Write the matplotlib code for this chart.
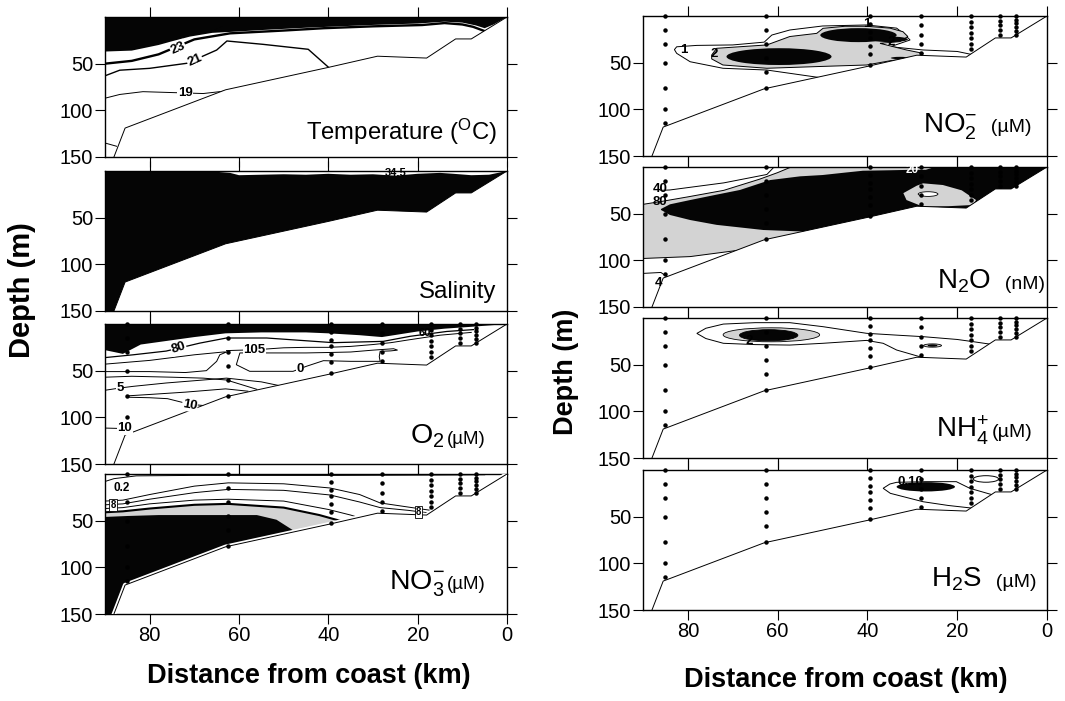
import numpy as np
import matplotlib
matplotlib.use("Agg")
import matplotlib.pyplot as plt
from matplotlib.patches import Polygon, Ellipse
from matplotlib.offsetbox import TextArea, HPacker, AnchoredOffsetbox

plt.rcParams["font.family"] = ["Liberation Sans", "DejaVu Sans"]
plt.rcParams["mathtext.fontset"] = "custom"
plt.rcParams["mathtext.rm"] = "Liberation Sans"
plt.rcParams["mathtext.it"] = "Liberation Sans:italic"
plt.rcParams["mathtext.bf"] = "Liberation Sans:bold"

BLACK = "#050505"
GREY = "#d3d3d3"

# ---------------------------------------------------------------- section geometry
dist_range = (90, 0)
depth_range = (150, 0)
x_ticks = [80, 60, 40, 20, 0]
depth_ticks = [50, 100, 150]

bottom_dist = [90, 88, 85.5, 63, 40, 29, 18, 11.5, 8, 0]
bottom_depth = [150, 150, 119, 78, 54, 42, 44, 23.5, 23.5, 0]

station_dist = [85, 62.5, 39.5, 28, 17, 10.5, 7]
station_depths = [
    [0, 15, 30, 50, 77, 100, 115],
    [0, 15, 30, 45, 60, 77],
    [0, 9, 17, 24, 32, 41, 53],
    [0, 10, 20, 30, 40],
    [0, 6, 12, 18, 24, 30, 35],
    [0, 5, 10, 15, 20],
    [0, 4, 8, 12, 16, 20],
]

# ---------------------------------------------------------------- temperature (degC)
temp_25_dist = [90, 84, 78, 75, 71, 66, 62, 55, 45, 40, 30, 20, 14, 10, 7, 5, 3, 0]
temp_25_depth = [37, 36, 30, 26, 21, 17, 16, 14, 11.5, 10.5, 8.5, 7, 5, 6, 9, 12, 8, 0]
temp_23_dist = [90, 84, 78, 75.5, 72, 70, 62, 50, 41, 30, 19, 14, 10, 7.6, 4.5]
temp_23_depth = [50, 47, 40, 35, 28, 24, 17.5, 14.5, 12, 10, 8.6, 6.5, 8, 10.5, 16]
temp_21_dist = [90, 86.7, 80, 71.7, 65, 62.7, 54.6, 44.5, 39.7]
temp_21_depth = [63, 57, 55, 49.6, 35.4, 25.7, 29.3, 34.6, 55]
temp_19_dist = [90, 86.7, 81.5, 68, 62.5]
temp_19_depth = [87, 83, 80, 82, 79]
temp_17_dist = [90, 87.4]
temp_17_depth = [135, 138.5]

# ---------------------------------------------------------------- salinity
sal_top_dist = [90, 72, 66, 62, 60, 55, 50, 45, 40, 35, 30, 25, 20, 15, 12, 8, 4, 2, 0]
sal_top_depth = [0, 0, 0.5, 2, 4.5, 4, 3.5, 4, 3, 4, 3.5, 5, 3, 2, 3, 4.5, 4, 2, 0]

# ---------------------------------------------------------------- oxygen (uM)
o2_high_dist = [90, 86, 82, 76, 70, 63, 55, 45, 40, 33, 28, 24, 20, 14, 8, 0]
o2_high_depth = [28, 32, 22, 18, 14, 10, 9, 9, 10, 12, 14, 11, 8, 5, 3, 0]
o2_80_dist = [90, 83.7, 76.3, 68.8, 62.8, 53.8, 38.9, 27.7, 21.7, 13.5, 7.5]
o2_80_depth = [36, 33, 29, 20.5, 15, 15, 20, 18.6, 13.2, 8, 6]
o2_105_dist = [62.8, 56, 50, 45, 40, 35, 30, 26, 22, 15, 8]
o2_105_depth = [28.5, 27.5, 25.5, 25, 25, 24, 22, 20, 17, 12, 9]
o2_tongue_dist = [90, 80, 70, 63.5, 62.8, 64.3, 65, 67.3, 72, 80, 90]
o2_tongue_depth = [43, 39, 33, 30, 30, 33, 40, 50, 52, 51, 51]
o2_0_dist = [59.8, 55, 45, 39.6, 35, 30, 25.4, 24.5, 26, 28.4, 28.6, 28.4, 35, 41.1,
             44.9, 47.9, 57.6, 60.6, 59.8]
o2_0_depth = [31, 31, 31, 30.5, 30, 28, 26.5, 28, 28.8, 29.3, 35, 40, 40, 39.3,
              45.3, 50.7, 50.7, 43.6, 31]
o2_mid_dist = [90, 84, 75, 68, 62.8, 56]
o2_mid_depth = [57, 56, 57, 58, 60, 70]
o2_5_dist = [90, 86.7, 83.7, 76.3, 62.8, 55, 50]
o2_5_depth = [71, 68.6, 66.8, 63.2, 58, 62, 67]
o2_10_dist = [58, 63, 72, 80, 85, 84.5, 80, 76, 71, 66.5]
o2_10_depth = [72, 69.5, 73, 75.5, 77, 78.5, 79, 80, 86, 88]
o2_10b_dist = [90, 86, 85]
o2_10b_depth = [111.5, 112, 118]

# ---------------------------------------------------------------- nitrate (uM)
no3_02_dist = [90, 88, 83, 70, 40, 20, 10, 5]
no3_02_depth = [8, 5, 2, 1.5, 1.5, 1.2, 1, 0.8]
no3_a_dist = [90, 86, 80, 70, 62.4, 50, 39.6, 33, 28.4, 22, 17, 14]
no3_a_depth = [29, 28, 22, 13, 9.5, 10.5, 15, 22, 31, 35.5, 39, 45]
no3_b_dist = [90, 86, 80, 70, 62.4, 50, 39.6, 33, 28.4, 22, 17, 14]
no3_b_depth = [33, 32, 27, 20, 16.5, 17.5, 22.5, 30, 36, 39, 42, 46]
no3_c_dist = [90, 86, 80, 70, 62.4, 50, 40, 35, 31]
no3_c_depth = [37, 36, 32, 28, 27, 29, 38, 44, 50]
no3_d_dist = [90, 86, 80, 70, 62.4, 50, 42, 36]
no3_d_depth = [41, 40, 37, 33, 32, 36, 44, 52]
no3_deep_dist = [90, 85, 78, 65, 56, 51.6, 47, 44]
no3_deep_depth = [46, 45, 44, 44, 44, 49, 63, 70]

# ---------------------------------------------------------------- nitrite (uM)
no2_1_dist = [83, 82.5, 78, 70, 63, 61.3, 57.3, 50, 40.2, 33.5, 32, 30.5, 34.9, 27.6, 20,
              16, 20, 30, 40, 50.6, 62.4, 72.2, 79.5, 82.5, 83]
no2_1_depth = [36, 33, 31.5, 31, 28, 20.4, 15, 10.7, 9.6, 13, 18.6, 25.7, 32.9, 36.4, 38,
               42, 50, 50, 58, 66, 57.9, 56, 49, 40, 36]
no2_2_dist = [74.7, 74.7, 73.6, 62.4, 57.3, 51.3, 49.9, 45, 40.2, 35, 32.1, 31, 32.8, 37.2,
              31.3, 27.6, 28, 35, 40.2, 50, 62.4, 72.2, 74.7]
no2_2_depth = [46, 41.8, 34.6, 31, 22, 18.6, 13.2, 11, 11, 13, 16.8, 22, 27.5, 29.3,
               36.4, 40, 44, 48, 52.5, 54, 56, 52.5, 46]
no2_max_dist = [59.7, 42, 35, 32.8]
no2_max_depth = [43.5, 20.5, 25, 45]
no2_max_width = [23.4, 17, 8, 4]
no2_max_height = [18, 15, 6, 2.5]

# ---------------------------------------------------------------- nitrous oxide (nM)
n2o_grey_top_dist = [90, 86, 80, 72, 64, 60, 57, 0]
n2o_grey_top_depth = [40, 37, 32, 25, 13, 6, 0, 0]
n2o_grey_bot_dist = [90, 79.5, 68.4, 62, 61, 0]
n2o_grey_bot_depth = [98, 96, 89, 79, 150, 150]
n2o_core_top_dist = [86, 84, 79.5, 74, 68.4, 61.7, 55, 50, 45, 41, 35, 30, 27, 25, 0]
n2o_core_top_depth = [45, 40, 35.4, 30, 24.6, 14, 10, 8.6, 6, 4, 3.5, 3, 3, 0, 0]
n2o_core_bot_dist = [0, 20, 27, 45, 52, 55, 63.2, 73.6, 79.5, 84, 86]
n2o_core_bot_depth = [150, 150, 80, 80, 72, 69, 67.5, 62, 56.8, 51.4, 46]
n2o_patch_dist = [32, 29, 27.6, 23.2, 19, 15.8, 16.5, 22, 27.6, 31.3, 32]
n2o_patch_depth = [28, 20, 17.5, 19.3, 25, 35.4, 40.7, 42, 42.5, 35.4, 28]
n2o_40_dist = [86, 84, 72, 62.4, 61]
n2o_40_depth = [25, 24.6, 17, 8, 1]
n2o_deep_dist = [90, 86, 84]
n2o_deep_depth = [114, 113, 120]

# ---------------------------------------------------------------- ammonium (uM)
nh4_outer_dist = [78, 76, 72.1, 65, 57.3, 49.9, 40.2, 33, 27.6, 20, 16.4, 12.7, 10, 17,
                  27.6, 33.5, 36.5, 40.2, 49.9, 57.3, 65, 72.1, 76, 78]
nh4_outer_depth = [16.5, 11, 6.5, 5, 5, 9.3, 16.4, 18.5, 20, 23, 25.4, 28, 35, 50,
                   42.5, 34.3, 27.1, 24, 27.1, 29, 28.5, 27.1, 22, 16.5]
nh4_patch_dist = [61.4, 62, 25.5, 25.5]
nh4_patch_depth = [18, 18.5, 29.5, 29.5]
nh4_patch_width = [21.5, 13, 4, 2]
nh4_patch_height = [15, 12, 3.5, 1.5]

# ---------------------------------------------------------------- sulphide (uM)
h2s_outer_dist = [36.5, 35, 33.5, 27, 20.2, 17.2, 12, 10, 16.4, 22, 27.6, 34.9, 36.5]
h2s_outer_depth = [19.6, 15, 13.2, 12.5, 12.5, 19.6, 26.8, 35, 41, 38, 34, 25, 19.6]
h2s_core_dist = [27]
h2s_core_depth = [18]
h2s_core_width = [13]
h2s_core_height = [10]
h2s_ring_dist = [13.6]
h2s_ring_depth = [9.6]
h2s_ring_width = [5.6]
h2s_ring_height = [7]

SURF = ([dist_range[0], dist_range[1]], [0, 0])
DEEP = ([dist_range[0], dist_range[1]], [depth_range[0], depth_range[0]])


def water_clip(ax):
    verts = [(0, 0), (90, 0)] + list(zip(bottom_dist, bottom_depth))
    return Polygon(verts, closed=True, transform=ax.transData,
                   facecolor="none", edgecolor="none")


def region(ax, clip, top, bot, color, edge="none", lw=0.0, z=1):
    xs = list(top[0]) + list(bot[0])[::-1]
    ys = list(top[1]) + list(bot[1])[::-1]
    p = ax.fill(xs, ys, facecolor=color, edgecolor=edge, lw=lw, zorder=z)[0]
    p.set_clip_path(clip)
    return p


def outline(ax, clip, xs, ys, face="none", lw=0.7, z=2):
    p = ax.fill(xs, ys, facecolor=face, edgecolor="black", lw=lw, zorder=z)[0]
    p.set_clip_path(clip)
    return p


def line(ax, clip, xs, ys, lw=0.7, z=3, color="black"):
    l, = ax.plot(xs, ys, color=color, lw=lw, zorder=z, solid_joinstyle="round")
    l.set_clip_path(clip)
    return l


def blobs(ax, clip, xs, ys, ws, hs, faces, edge="black", lw=0.6, z=3):
    for x, y, w, h, f in zip(xs, ys, ws, hs, faces):
        e = Ellipse((x, y), w, h, facecolor=f, edgecolor=edge, lw=lw, zorder=z)
        ax.add_patch(e)
        e.set_clip_path(clip)


def clab(ax, x, y, s, rot=0, size=9.5, bg="white", color="black"):
    kw = dict(rotation=rot, ha="center", va="center", fontsize=size,
              fontweight="bold", color=color, zorder=6, rotation_mode="anchor")
    if bg is not None:
        kw["bbox"] = dict(facecolor=bg, edgecolor="none", pad=0.4)
    ax.text(x, y, s, **kw)


def bathymetry(ax, halo=False):
    if halo:
        ax.plot(bottom_dist[1:], bottom_depth[1:], color="white", lw=3.2, zorder=4)
    ax.plot(bottom_dist[1:], bottom_depth[1:], color="black", lw=0.7, zorder=5)


def stations(ax):
    for s, ds in zip(station_dist, station_depths):
        ax.plot(np.full(len(ds), s), ds, "o", ms=2.2, color="black", zorder=5,
                clip_on=False)


def panel_label(ax, main, unit, xr, yb, main_size=19.5, unit_size=13.5, sep=2):
    kids = [TextArea(main, textprops=dict(fontsize=main_size))]
    if unit:
        kids.append(TextArea(unit, textprops=dict(fontsize=unit_size)))
    box = HPacker(children=kids, align="baseline", pad=0, sep=sep)
    anc = AnchoredOffsetbox(loc="lower right", child=box, pad=0, borderpad=0,
                            frameon=False, bbox_to_anchor=(xr, yb),
                            bbox_transform=ax.transAxes)
    anc.set_zorder(7)
    ax.add_artist(anc)


W, H = 1065, 701
fig = plt.figure(figsize=(W / 100, H / 100), dpi=100)

left_tops = [17, 171, 324, 474]
right_tops = [16, 167, 318, 470]
ph = 140


def make_axes(x0, w, top, last):
    ax = fig.add_axes([x0 / W, 1 - (top + ph) / H, w / W, ph / H])
    ax.set_xlim(*dist_range)
    ax.set_ylim(*depth_range)
    ax.set_xticks(x_ticks)
    ax.set_yticks(depth_ticks)
    ax.tick_params(direction="out", length=7, width=0.8, top=True, right=True,
                   labelsize=14.5, pad=1.5, labelbottom=last)
    for sp in ax.spines.values():
        sp.set_linewidth(1.0)
    return ax


axL = [make_axes(105, 402, t, i == 3) for i, t in enumerate(left_tops)]
axR = [make_axes(643, 404, t, i == 3) for i, t in enumerate(right_tops)]

# ---- temperature
ax = axL[0]
c = water_clip(ax)
region(ax, c, SURF, (temp_25_dist, temp_25_depth), BLACK)
line(ax, c, temp_23_dist, temp_23_depth, lw=1.7)
line(ax, c, temp_21_dist, temp_21_depth, lw=1.0)
line(ax, c, temp_19_dist, temp_19_depth, lw=0.7)
line(ax, c, temp_17_dist, temp_17_depth, lw=0.7)
clab(ax, 73.7, 33, "23", rot=24)
clab(ax, 69.9, 46.5, "21", rot=24)
clab(ax, 72, 81.5, "19")
bathymetry(ax)
panel_label(ax, r"Temperature ($^{\mathrm{O}}$C)", None, 0.975, 0.07, main_size=17.2)

# ---- salinity
ax = axL[1]
c = water_clip(ax)
region(ax, c, (sal_top_dist, sal_top_depth), DEEP, BLACK)
clab(ax, 25, 2.5, "34.5", size=8, bg=None)
bathymetry(ax)
panel_label(ax, "Salinity", None, 0.973, 0.06, main_size=17.3)

# ---- oxygen
ax = axL[2]
c = water_clip(ax)
region(ax, c, SURF, (o2_high_dist, o2_high_depth), BLACK)
line(ax, c, o2_80_dist, o2_80_depth, lw=0.9)
line(ax, c, o2_105_dist, o2_105_depth, lw=0.7)
line(ax, c, o2_tongue_dist, o2_tongue_depth, lw=0.7)
outline(ax, c, o2_0_dist, o2_0_depth)
line(ax, c, o2_mid_dist, o2_mid_depth, lw=0.7)
line(ax, c, o2_5_dist, o2_5_depth, lw=0.7)
line(ax, c, o2_10_dist, o2_10_depth, lw=0.7)
line(ax, c, o2_10b_dist, o2_10b_depth, lw=0.7)
clab(ax, 73.5, 26, "80", rot=18)
clab(ax, 56.5, 28, "105")
clab(ax, 46.4, 48.5, "0")
clab(ax, 86.7, 68.6, "5")
clab(ax, 71, 87, "10", rot=-10)
clab(ax, 85.6, 111.5, "10")
clab(ax, 18.5, 9.5, "60", size=8, bg=None)
stations(ax)
bathymetry(ax)
panel_label(ax, r"O$_2$", "(µM)", 0.948, 0.10, main_size=20.5, unit_size=13.5)

# ---- nitrate
ax = axL[3]
c = water_clip(ax)
region(ax, c, (no3_d_dist, no3_d_depth), DEEP, GREY)
region(ax, c, (no3_deep_dist, no3_deep_depth), DEEP, BLACK)
line(ax, c, no3_02_dist, no3_02_depth, lw=0.7)
line(ax, c, no3_a_dist, no3_a_depth, lw=0.7)
line(ax, c, no3_b_dist, no3_b_depth, lw=0.7)
line(ax, c, no3_c_dist, no3_c_depth, lw=0.7)
line(ax, c, no3_d_dist, no3_d_depth, lw=1.5)
clab(ax, 86.3, 15.4, "0.2", size=8.5)
for lx, ly in [(88.2, 33), (19.8, 41)]:
    ax.text(lx, ly, "8", ha="center", va="center", fontsize=7, fontweight="bold",
            zorder=6, bbox=dict(facecolor="white", edgecolor="black", lw=0.6, pad=0.6))
stations(ax)
bathymetry(ax, halo=True)
panel_label(ax, r"NO$_3^{-}$", "(µM)", 0.948, 0.11, main_size=20.5, unit_size=13.5)

# ---- nitrite
ax = axR[0]
c = water_clip(ax)
outline(ax, c, no2_1_dist, no2_1_depth, face="white", lw=0.7)
outline(ax, c, no2_2_dist, no2_2_depth, face=GREY, lw=0.7)
blobs(ax, c, no2_max_dist, no2_max_depth, no2_max_width, no2_max_height,
      [BLACK] * 4, edge="none")
clab(ax, 81, 36, "1", bg=None)
clab(ax, 74.2, 40.5, "2", bg=None)
clab(ax, 40.2, 8.3, "1", bg=None)
clab(ax, 34.6, 27.5, "2", bg=None)
stations(ax)
bathymetry(ax)
panel_label(ax, r"NO$_2^{-}$", "  (µM)", 0.962, 0.10, main_size=20, unit_size=14)

# ---- nitrous oxide
ax = axR[1]
c = water_clip(ax)
region(ax, c, (n2o_grey_top_dist, n2o_grey_top_depth),
       (n2o_grey_bot_dist, n2o_grey_bot_depth), GREY)
line(ax, c, n2o_grey_top_dist[:-1], n2o_grey_top_depth[:-1], lw=0.7)
line(ax, c, n2o_grey_bot_dist[:4], n2o_grey_bot_depth[:4], lw=0.7)
region(ax, c, (n2o_core_top_dist, n2o_core_top_depth),
       (n2o_core_bot_dist[::-1], n2o_core_bot_depth[::-1]), BLACK)
outline(ax, c, n2o_patch_dist, n2o_patch_depth, face=GREY, lw=0.0)
blobs(ax, c, [26.5], [29], [4.4], [5], ["white"])
line(ax, c, n2o_40_dist, n2o_40_depth, lw=0.7)
line(ax, c, n2o_deep_dist, n2o_deep_depth, lw=0.7)
clab(ax, 86.2, 23.5, "40", bg=None)
clab(ax, 86.2, 37.5, "80", bg=None)
clab(ax, 30, 3, "20", size=8.5, bg=None, color="white")
clab(ax, 86.6, 124, "4", bg=None)
stations(ax)
bathymetry(ax)
panel_label(ax, r"N$_2$O", "  (nM)", 0.995, 0.085, main_size=20, unit_size=14)

# ---- ammonium
ax = axR[2]
c = water_clip(ax)
outline(ax, c, nh4_outer_dist, nh4_outer_depth, face="white", lw=0.7)
blobs(ax, c, nh4_patch_dist, nh4_patch_depth, nh4_patch_width, nh4_patch_height,
      [GREY, BLACK, GREY, BLACK], lw=0.6)
clab(ax, 66.3, 24.5, "2", bg=None)
stations(ax)
bathymetry(ax)
panel_label(ax, r"NH$_4^{+}$", "(µM)", 0.965, 0.08, main_size=20, unit_size=14)

# ---- sulphide
ax = axR[3]
c = water_clip(ax)
outline(ax, c, h2s_outer_dist, h2s_outer_depth, face="white", lw=0.7)
blobs(ax, c, h2s_core_dist, h2s_core_depth, h2s_core_width, h2s_core_height,
      [BLACK], edge="none")
blobs(ax, c, h2s_ring_dist, h2s_ring_depth, h2s_ring_width, h2s_ring_height,
      ["none"], lw=0.7)
clab(ax, 30.5, 13.3, "0.10", size=9.5, bg=None)
stations(ax)
bathymetry(ax)
panel_label(ax, r"H$_2$S", "  (µM)", 0.974, 0.12, main_size=20, unit_size=14)

# ---- shared axis titles
fig.text(309 / W, 1 - 676 / H, "Distance from coast (km)", ha="center", va="center",
         fontsize=19.5, fontweight="bold")
fig.text(846 / W, 1 - 680 / H, "Distance from coast (km)", ha="center", va="center",
         fontsize=19.5, fontweight="bold")
fig.text(22 / W, 1 - 290 / H, "Depth (m)", ha="center", va="center", rotation=90,
         fontsize=21, fontweight="bold")
fig.text(566 / W, 1 - 372 / H, "Depth (m)", ha="center", va="center", rotation=90,
         fontsize=19.5, fontweight="bold")

fig.savefig("out.png", dpi=100)
